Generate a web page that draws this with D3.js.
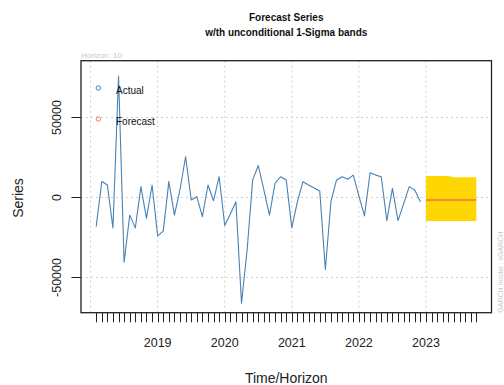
<!DOCTYPE html>
<html><head><meta charset="utf-8">
<script src="https://cdn.jsdelivr.net/npm/d3@7"></script>
<style>html,body{margin:0;padding:0;background:#fff;}svg{display:block;font-family:"Liberation Sans",Arial,sans-serif;}</style>
</head><body>
<svg id="c" width="504" height="385"></svg>
<script>
// Actual monthly series, Feb 2018 .. Dec 2022
const startYear = 2018, startMonthIndex = 1; // first observation: Feb 2018
const actual = [-18200,10000,7800,-19000,75900,-40500,-11000,-19000,6800,-13000,7800,
  -24000,-21000,9900,-11000,5000,25500,-1500,500,-12000,7800,-2000,13000,
  -17500,-10300,-2600,-66000,-33000,11000,20000,4700,-11000,8900,13000,11000,
  -19000,-2600,9900,7800,6000,4000,-45000,-2600,11000,13000,11400,14000,
  1000,-11500,15500,14000,13000,-14500,5700,-14500,-4000,6800,4700,-2600];
// Forecast horizon 10: Jan 2023 .. Oct 2023
const forecastMean = [-1500,-1500,-1500,-1500,-1500,-1500,-1500,-1500,-1500,-1500];
const bandUpper = [13400,13400,13400,13400,13400,12600,12600,12600,12600,12600];
const bandLower = [-14700,-14700,-14700,-14700,-14700,-14700,-14700,-14700,-14700,-14700];
const yearLabels = [2019,2020,2021,2022,2023];
const gridYears = [2018,2019,2020,2021,2022,2023];
const yTicks = [-50000,0,50000];
const legendItems = ["Actual","Forecast"];

const svg = d3.select("#c");
const L=81, R=491.5, T=60.7, B=312.7;
const tOf = i => startYear + (startMonthIndex + i)/12;
const nAll = actual.length + forecastMean.length;
const x = d3.scaleLinear().domain([2017.857, 2023.977]).range([L,R]);
const y = d3.scaleLinear().domain([-72000, 85500]).range([B,T]);

// grid
const grid = svg.append("g").attr("stroke","#d0d0d0").attr("stroke-dasharray","2,3").attr("stroke-width",1);
gridYears.forEach(g=>grid.append("line").attr("x1",x(g)).attr("x2",x(g)).attr("y1",T).attr("y2",B));
yTicks.forEach(v=>grid.append("line").attr("x1",L).attr("x2",R).attr("y1",y(v)).attr("y2",y(v)));

// band
const fIdx = d3.range(forecastMean.length);
const fT = k => tOf(actual.length + k);
svg.append("path").datum(fIdx)
  .attr("d", d3.area().x(k=>x(fT(k))).y0(k=>y(bandLower[k])).y1(k=>y(bandUpper[k])))
  .attr("fill","#FFD700");

// actual line
svg.append("path").datum(actual)
  .attr("d", d3.line().x((d,i)=>x(tOf(i))).y(d=>y(d)))
  .attr("fill","none").attr("stroke","#4682B4").attr("stroke-width",1.1).attr("stroke-linejoin","round");

// forecast line
svg.append("path").datum(forecastMean)
  .attr("d", d3.line().x((d,k)=>x(fT(k))).y(d=>y(d)))
  .attr("fill","none").attr("stroke","#F7883E").attr("stroke-width",2);

// frame
svg.append("rect").attr("x",L).attr("y",T).attr("width",R-L).attr("height",B-T)
  .attr("fill","none").attr("stroke","#222").attr("stroke-width",1.3);

// x axis: monthly ticks, yearly labels
const xa = svg.append("g").attr("stroke","#222").attr("stroke-width",1);
d3.range(nAll).forEach(i=>{ const xx=Math.round(x(tOf(i)))+0.5;
  xa.append("line").attr("x1",xx).attr("x2",xx).attr("y1",B).attr("y2",B+9.6); });
svg.append("g").selectAll("text").data(yearLabels).join("text")
  .attr("x",d=>x(d)).attr("y",347).attr("text-anchor","middle")
  .attr("font-size",12.5).attr("fill","#222").text(d=>d);

// y axis
const ya = svg.append("g");
yTicks.forEach(v=>{
  ya.append("line").attr("x1",L-9.6).attr("x2",L).attr("y1",y(v)).attr("y2",y(v)).attr("stroke","#222");
  ya.append("text").attr("transform",`translate(61,${y(v)}) rotate(-90)`).attr("text-anchor","middle")
    .attr("font-size",12.5).attr("fill","#222").text(v);
});

// labels
svg.append("text").attr("x",(L+R)/2).attr("y",383).attr("text-anchor","middle").attr("font-size",14).attr("fill","#222").text("Time/Horizon");
svg.append("text").attr("transform",`translate(23,198) rotate(-90)`).attr("text-anchor","middle").attr("font-size",14).attr("fill","#222").text("Series");
svg.append("text").attr("x",(L+R)/2).attr("y",21).attr("text-anchor","middle").attr("font-size",10).attr("font-weight","bold").attr("fill","#111").text("Forecast Series");
svg.append("text").attr("x",(L+R)/2).attr("y",36).attr("text-anchor","middle").attr("font-size",10).attr("font-weight","bold").attr("fill","#111").text("w/th unconditional 1-Sigma bands");
svg.append("text").attr("x",L).attr("y",58).attr("font-size",8).attr("fill","#c8c8c8").text("Horizon: 10");
svg.append("text").attr("transform",`translate(503,${B}) rotate(-90)`).attr("font-size",7).attr("fill","#c8c8c8").text("GARCH model : sGARCH");

// legend
const lc = ["#4682B4","#F47A6A"];
legendItems.forEach((t,k)=>{
  const yy = 88 + k*31;
  svg.append("circle").attr("cx",98.3).attr("cy",yy).attr("r",2.2).attr("fill","none").attr("stroke",lc[k]);
  svg.append("text").attr("x",116).attr("y",yy+6).attr("font-size",10).attr("fill","#111").text(t);
});
</script>
</body></html>
